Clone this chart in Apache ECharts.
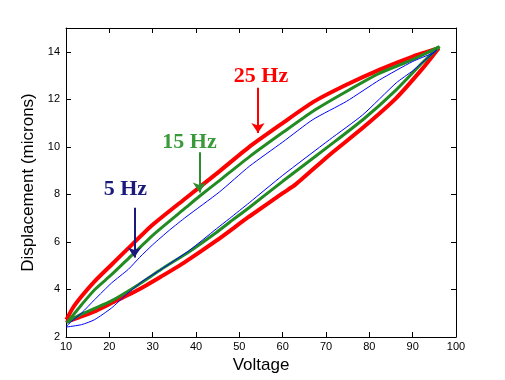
<!DOCTYPE html>
<html>
<head>
<meta charset="utf-8">
<script src="https://cdn.jsdelivr.net/npm/echarts@6/dist/echarts.min.js"></script>
<style>html,body{margin:0;padding:0;background:#fff}#c{width:505px;height:380px}</style>
</head>
<body>
<div id="c"></div>
<script>
// ---- tick labels ----
const xTicks = [10, 20, 30, 40, 50, 60, 70, 80, 90, 100];
const yTicks = [2, 4, 6, 8, 10, 12, 14];

// ---- 25 Hz loop ----
const volt25Rise = [10.1, 10.4, 13.6, 16.6, 20.5, 26.7, 32, 37, 44.7, 52.3, 60, 63, 70.8, 78.5, 86.2, 92.3, 96];
const disp25Rise = [2.72, 2.68, 2.87, 3.08, 3.43, 3.99, 4.55, 5.1, 6.05, 7.07, 8.05, 8.42, 9.66, 10.8, 12.05, 13.3, 14.15];
const volt25Fall = [96, 90, 82.4, 74.7, 67, 60, 52.3, 45.4, 37.7, 30, 24.4, 20.5, 16.6, 13.6, 11.5, 10.1];
const disp25Fall = [14.15, 13.8, 13.25, 12.61, 11.88, 11.0, 10.0, 8.97, 7.85, 6.72, 5.74, 5.04, 4.34, 3.71, 3.2, 2.73];

// ---- 15 Hz loop ----
const volt15Rise = [10.2, 13.1, 16.6, 20.5, 26.7, 32, 38.5, 44.7, 47.7, 52.3, 60, 70.8, 78.5, 86.2, 92.3, 96.2];
const disp15Rise = [2.6, 2.92, 3.2, 3.52, 4.2, 4.85, 5.6, 6.4, 6.82, 7.45, 8.55, 10.05, 11.14, 12.4, 13.55, 14.22];
const volt15Fall = [96.2, 90, 82.4, 74.7, 67, 60, 52.3, 45.4, 40.8, 37.7, 30, 24.4, 20.5, 16.6, 13.6, 10.2];
const disp15Fall = [14.22, 13.67, 13.1, 12.33, 11.5, 10.6, 9.58, 8.58, 7.92, 7.45, 6.28, 5.3, 4.62, 3.99, 3.36, 2.6];

// ---- 5 Hz loop ----
const volt5Rise = [10.1, 13.6, 16.6, 20.5, 24, 27.7, 31.6, 38.5, 44.7, 47.7, 52.3, 60, 70.8, 78.5, 86.2, 90, 95.6];
const disp5Rise = [2.42, 2.52, 2.73, 3.22, 3.8, 4.35, 4.8, 5.65, 6.55, 6.98, 7.65, 8.8, 10.3, 11.35, 12.69, 13.2, 14.08];
const volt5Fall = [95.6, 94.7, 90, 82.4, 74.7, 67, 60, 52.3, 45.4, 37.7, 33.9, 30, 27, 24.4, 20.5, 16.6, 13.6, 11.3, 10.1];
const disp5Fall = [14.08, 13.95, 13.59, 12.82, 11.91, 11.15, 10.2, 9.18, 8.1, 7.05, 6.5, 5.88, 5.35, 4.85, 4.27, 3.57, 3.01, 2.66, 2.45];

// ---- annotations ----
const annLabels = ['25 Hz', '15 Hz', '5 Hz'];
const annTextX = [55.0, 38.5, 23.7];
const annTextY = [12.97, 10.19, 8.2];
const annArrowX = [54.3, 40.8, 25.8];
const annArrowTop = [12.49, 9.77, 7.44];
const annArrowTip = [10.58, 8.08, 5.34];

const colors = ['#ff0000', '#228b22', '#0000ff'];
const textColors = ['#ff0000', '#3a9a3a', '#1a1a7a'];
const arrowColors = ['#ff0000', '#2e8b2e', '#1a1a7a'];

function zip(xs, ys) { return xs.map((x, i) => [x, ys[i]]); }
const loops = [
  zip(volt25Rise, disp25Rise).concat(zip(volt25Fall, disp25Fall)),
  zip(volt15Rise, disp15Rise).concat(zip(volt15Fall, disp15Fall)),
  zip(volt5Rise, disp5Rise).concat(zip(volt5Fall, disp5Fall))
];
const widths = [4, 3, 1];

const series = loops.map((d, i) => ({
  type: 'line',
  data: d,
  showSymbol: false,
  smooth: 0.2,
  lineStyle: { color: colors[i], width: widths[i] },
  silent: true,
  z: 2 + i,
  markLine: {
    silent: true,
    symbol: ['none', 'arrow'],
    symbolSize: [10, 10],
    label: { show: false },
    lineStyle: { color: arrowColors[i], width: 2, type: 'solid' },
    data: [[{ coord: [annArrowX[i], annArrowTop[i]] }, { coord: [annArrowX[i], annArrowTip[i]] }]]
  },
  markPoint: {
    silent: true,
    symbol: 'circle',
    symbolSize: 0,
    label: {
      show: true, position: 'inside', formatter: annLabels[i],
      color: textColors[i], fontFamily: 'Liberation Serif', fontWeight: 'bold', fontSize: 22
    },
    data: [{ coord: [annTextX[i], annTextY[i]] }]
  }
}));

const axisCommon = {
  type: 'value', min: 10, max: 100, interval: 10,
  axisLine: { show: true, lineStyle: { color: '#000', width: 1 } },
  axisTick: { show: true, inside: true, length: 5, lineStyle: { color: '#000' } },
  splitLine: { show: false }
};

const chart = echarts.init(document.getElementById('c'), null, { renderer: 'canvas' });
chart.setOption({
  animation: false,
  backgroundColor: '#fff',
  grid: { left: 66, top: 28, width: 390, height: 309, containLabel: false },
  xAxis: [
    Object.assign({}, axisCommon, {
      position: 'bottom',
      name: 'Voltage', nameLocation: 'middle', nameGap: 19,
      nameTextStyle: { fontFamily: 'Liberation Sans', fontSize: 17, color: '#000' },
      axisTick: { show: true, inside: true, length: 5, lineStyle: { color: '#000' }, customValues: xTicks },
      axisLabel: { color: '#000', fontFamily: 'Liberation Sans', fontSize: 11, margin: 4, customValues: xTicks }
    }),
    Object.assign({}, axisCommon, {
      position: 'top',
      axisTick: { show: true, inside: true, length: 5, lineStyle: { color: '#000' }, customValues: xTicks },
      axisLabel: { show: false }
    })
  ],
  yAxis: [
    {
      type: 'value', min: 2, max: 15, interval: 2, position: 'left',
      name: 'Displacement (microns)', nameLocation: 'middle', nameGap: 23,
      nameTextStyle: { fontFamily: 'Liberation Sans', fontSize: 17, color: '#000' },
      axisLine: { show: true, lineStyle: { color: '#000', width: 1 } },
      axisTick: { show: true, inside: true, length: 5, lineStyle: { color: '#000' }, customValues: yTicks },
      axisLabel: { color: '#000', fontFamily: 'Liberation Sans', fontSize: 11, margin: 6, customValues: yTicks },
      splitLine: { show: false }
    },
    {
      type: 'value', min: 2, max: 15, interval: 2, position: 'right',
      axisLine: { show: true, lineStyle: { color: '#000', width: 1 } },
      axisTick: { show: true, inside: true, length: 5, lineStyle: { color: '#000' }, customValues: yTicks },
      axisLabel: { show: false },
      splitLine: { show: false }
    }
  ],
  series: series
});
</script>
</body>
</html>
